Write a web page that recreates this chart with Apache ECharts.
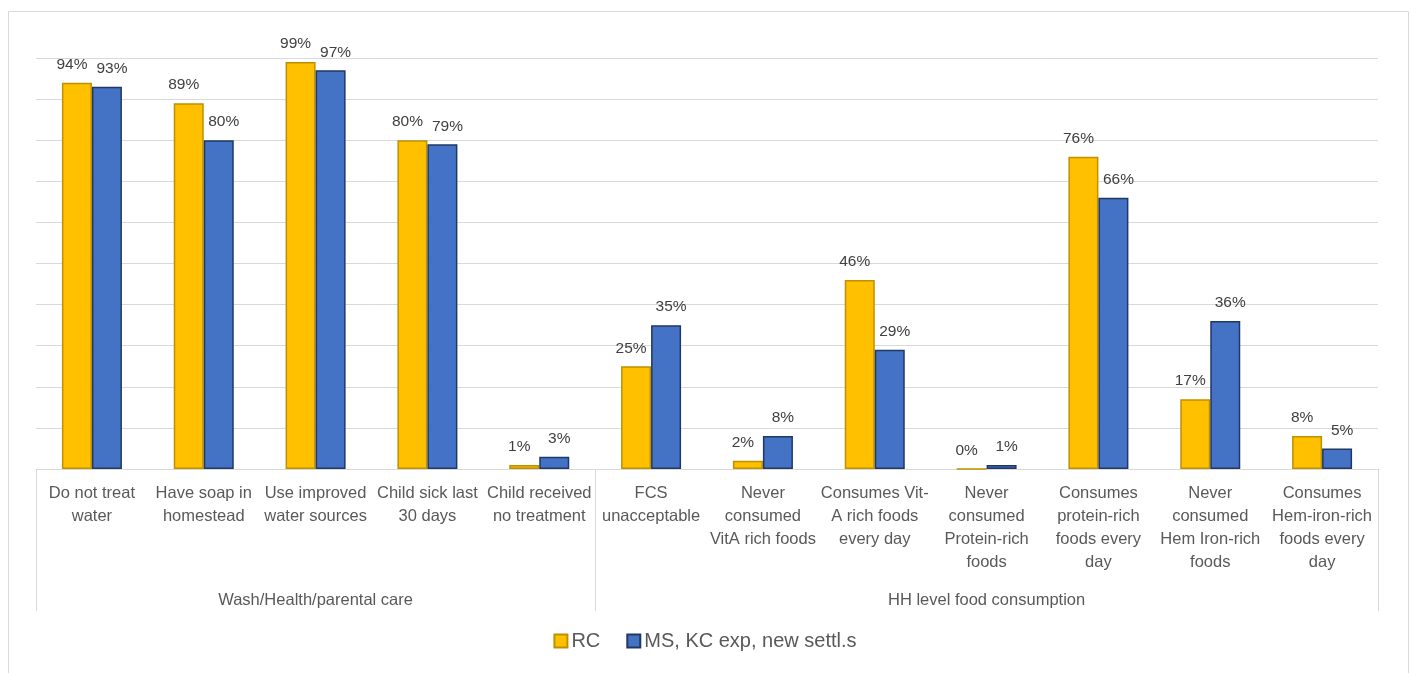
<!DOCTYPE html>
<html>
<head>
<meta charset="utf-8">
<script src="https://cdn.jsdelivr.net/npm/echarts@6/dist/echarts.min.js"></script>
<style>html,body{margin:0;padding:0;background:#fff}#c{width:1410px;height:673px}</style>
</head>
<body>
<div id="c"></div>
<script>
const categories = [
  'Do not treat\nwater', 'Have soap in\nhomestead', 'Use improved\nwater sources', 'Child sick last\n30 days',
  'Child received\nno treatment', 'FCS\nunacceptable', 'Never\nconsumed\nVitA rich foods',
  'Consumes Vit-\nA rich foods\nevery day', 'Never\nconsumed\nProtein-rich\nfoods',
  'Consumes\nprotein-rich\nfoods every\nday', 'Never\nconsumed\nHem Iron-rich\nfoods',
  'Consumes\nHem-iron-rich\nfoods every\nday'
];
const groupNames = ['Wash/Health/parental care', 'HH level food consumption'];
const groupSizes = [5, 7];
const seriesNames = ['RC', 'MS, KC exp, new settl.s'];
const rcValues = [94, 89, 99, 80, 1, 25, 2, 46, 0, 76, 17, 8];
const msValues = [93, 80, 97, 79, 3, 35, 8, 29, 1, 66, 36, 5];

const FONT = "'Liberation Sans', Arial, sans-serif";
const TXT = '#595959';
const chart = echarts.init(document.getElementById('c'), null, {renderer: 'canvas'});

function labelCfg(dx) {
  return {
    show: true, position: 'top', distance: 10, offset: [dx, 0],
    formatter: p => p.value + '%',
    fontFamily: FONT, fontSize: 15.5, color: '#404040'
  };
}

chart.setOption({
  animation: false,
  backgroundColor: '#fff',
  grid: {left: 36, right: 32, top: 58, bottom: 204, containLabel: false},
  legend: {
    top: 626, left: 'center', itemWidth: 13, itemHeight: 13, itemGap: 26,
    icon: 'rect',
    textStyle: {fontFamily: FONT, fontSize: 20, color: TXT, padding: [0, 0, 0, -1]},
    data: seriesNames
  },
  xAxis: {
    type: 'category', data: categories,
    axisLine: {lineStyle: {color: '#D9D9D9', width: 1}},
    axisTick: {show: false},
    axisLabel: {interval: 0, fontFamily: FONT, fontSize: 16.5, color: TXT, lineHeight: 23, margin: 13, verticalAlign: 'top'}
  },
  yAxis: {
    type: 'value', min: 0, max: 100, interval: 10,
    axisLabel: {show: false}, axisLine: {show: false}, axisTick: {show: false},
    splitLine: {lineStyle: {color: '#D9D9D9', width: 1}}
  },
  series: [
    {
      name: seriesNames[0], type: 'bar', data: rcValues, barWidth: 30, barGap: '0%',
      itemStyle: {color: '#FFC000', borderColor: '#BF9000', borderWidth: 1.5},
      label: labelCfg(-5)
    },
    {
      name: seriesNames[1], type: 'bar', data: msValues, barWidth: 30,
      itemStyle: {color: '#4472C4', borderColor: '#1F3864', borderWidth: 1.5},
      label: labelCfg(5)
    }
  ]
});

// Group (second-level) axis drawn from the category scale
const px = i => chart.convertToPixel({xAxisIndex: 0}, i);
const y0 = chart.convertToPixel({yAxisIndex: 0}, 0);
const half = (px(1) - px(0)) / 2;
const elems = [{
  type: 'rect', left: 6, top: 9, silent: true,
  shape: {width: 1400, height: 700},
  style: {fill: 'none', stroke: '#D9D9D9', lineWidth: 1}
}];
let start = 0;
const boundaries = [px(0) - half];
groupSizes.forEach((n, g) => {
  const end = start + n - 1;
  const xr = px(end) + half;
  boundaries.push(xr);
  const xc = (px(start) - half + xr) / 2;
  elems.push({
    type: 'text', x: xc, y: y0 + 131, silent: true,
    style: {text: groupNames[g], fontFamily: FONT, fontSize: 16.5, fill: TXT, align: 'center', verticalAlign: 'middle'}
  });
  start += n;
});
boundaries.forEach(b => {
  elems.push({
    type: 'line', silent: true,
    shape: {x1: Math.round(b) + 0.5, y1: y0, x2: Math.round(b) + 0.5, y2: y0 + 142},
    style: {stroke: '#D9D9D9', lineWidth: 1}
  });
});
chart.setOption({graphic: {elements: elems}});
</script>
</body>
</html>
